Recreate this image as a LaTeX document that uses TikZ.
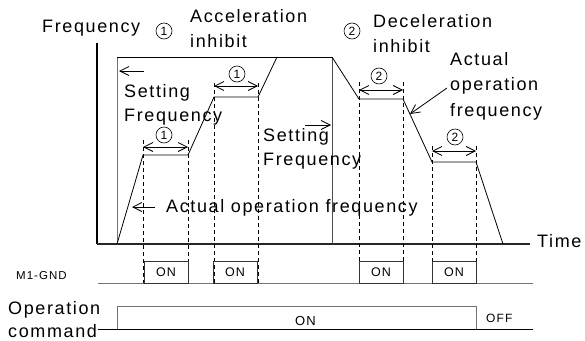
\documentclass[tikz,border=0pt]{standalone}
\usepackage{fontspec}
\setmainfont[LetterSpace=9]{Liberation Sans}
\usetikzlibrary{arrows.meta,positioning}

\begin{document}
\begin{tikzpicture}[x=1pt,y=-1pt,
  lbl/.style={anchor=base west,inner sep=0pt,font=\fontsize{18}{18}\selectfont},
  sml/.style={anchor=base west,inner sep=0pt,font=\fontsize{12}{12}\selectfont},
  num/.style={draw,circle,minimum size=16pt,inner sep=0pt,line width=0.6pt,font=\fontsize{12}{12}\selectfont},
  onbox/.style={draw=black!80,line width=0.8pt,minimum width=44pt,minimum height=22pt,inner sep=0pt,font=\fontsize{12.5}{12.5}\selectfont},
  guide/.style={dash pattern=on 4pt off 3pt,line width=0.7pt},
  ptr/.style={-{Straight Barb[length=9pt,width=9pt]},line width=0.8pt},
  span/.style={{Straight Barb[length=9pt,width=9pt]}-{Straight Barb[length=9pt,width=9pt]},line width=0.8pt}]
  \useasboundingbox (0,0) rectangle (585,340);

  % axes
  \coordinate (o) at (97,244);
  \coordinate (ytop) at (97,43);
  \coordinate (tend) at (530,244);
  \draw[line width=1.6pt] (ytop) -- (o);
  \draw[line width=2.6pt,black!85] (o) -- (tend);
  \node[lbl] (freq) at (42,32) {Frequency};
  \node[lbl,anchor=west] (time) at (537,241) {Time};

  % setting frequency
  \coordinate (s0) at (117,244);
  \coordinate (s1) at (117,57);
  \coordinate (s2) at (332,57);
  \coordinate (s3) at (332,244);
  \draw[black!55,line width=0.8pt] (s0) -- (s1);
  \draw[line width=0.8pt] (s1) -- (s2);
  \draw[black!70,line width=0.8pt] (s2) -- (s3);

  % actual operation frequency
  \coordinate (a1) at (143,155);
  \coordinate (a2) at (188,155);
  \coordinate (a3) at (214,97);
  \coordinate (a4) at (258,97);
  \coordinate (a5) at (277,57);
  \coordinate (a7) at (359,99);
  \coordinate (a8) at (403,99);
  \coordinate (a9) at (432,162);
  \coordinate (a10) at (476,162);
  \coordinate (a11) at (503,244);
  \draw[line width=0.8pt] (s0) -- (a1) -- (a2) -- (a3) -- (a4) -- (a5);
  \draw[line width=0.8pt] (s2) -- (a7) -- (a8) -- (a9) -- (a10) -- (a11);

  % inhibit guides
  \foreach \x/\y in {143/140,188/140,214/83,258/83,359/82,403/82,432/146,476/146}
    \draw[guide] (\x,\y) -- (\x,283);

  % inhibit spans
  \coordinate (p1) at (143,147);
  \coordinate (q1) at (188,147);
  \coordinate (p2) at (214,86);
  \coordinate (q2) at (258,86);
  \coordinate (p3) at (359,90);
  \coordinate (q3) at (403,90);
  \coordinate (p4) at (432,151);
  \coordinate (q4) at (476,151);
  \draw[span] (p1) -- (q1);
  \draw[span] (p2) -- (q2);
  \draw[span] (p3) -- (q3);
  \draw[span] (p4) -- (q4);
  \node[num] (n1) at (164,135) {1};
  \node[num] (n2) at (237,74) {1};
  \node[num] (n3) at (379,76) {2};
  \node[num] (n4) at (455,137) {2};

  % headings
  \node[num] (h1) at (164,31) {1};
  \node[lbl] (acc) at (190,22) {Acceleration};
  \node[lbl] (acci) at (190,47) {inhibit};
  \node[num] (h2) at (352,31) {2};
  \node[lbl] (dec) at (373,27) {Deceleration};
  \node[lbl] (deci) at (373,52) {inhibit};

  % setting frequency labels
  \coordinate (sl0) at (144,71);
  \coordinate (sl1) at (119,71);
  \draw[ptr] (sl0) -- (sl1);
  \node[lbl] (set1) at (124,97) {Setting};
  \node[lbl] (set1b) at (124,121) {Frequency};
  \coordinate (sr0) at (305,125);
  \coordinate (sr1) at (331,125);
  \draw[ptr] (sr0) -- (sr1);
  \node[lbl] (set2) at (263,141) {Setting};
  \node[lbl] (set2b) at (263,165) {Frequency};

  % actual frequency labels
  \node[lbl] (act1) at (450,65) {Actual};
  \node[lbl] (act1b) at (450,90) {operation};
  \node[lbl] (act1c) at (450,116) {frequency};
  \coordinate (ar0) at (447,88);
  \coordinate (ar1) at (410,114);
  \draw[ptr] (ar0) -- (ar1);
  \coordinate (al0) at (155,207);
  \coordinate (al1) at (132,207);
  \draw[ptr] (al0) -- (al1);
  \node[lbl] (act2) at (166,212) {Actual operation frequency};

  % M1-GND
  \coordinate (m0) at (98,283);
  \coordinate (m1) at (533,283);
  \draw[black!55,line width=0.8pt] (m0) -- (m1);
  \node[sml,font=\fontsize{11.5}{11.5}\selectfont] (mgnd) at (16,279) {M1-GND};
  \node[onbox] (on1) at (166,272) {ON};
  \node[onbox] (on2) at (235,272) {ON};
  \node[onbox] (on3) at (381,272) {ON};
  \node[onbox] (on4) at (454,272) {ON};

  % operation command
  \coordinate (c0) at (98,329);
  \coordinate (c1) at (533,329);
  \coordinate (r0) at (117,329);
  \coordinate (r1) at (117,306);
  \coordinate (r2) at (476,306);
  \coordinate (r3) at (476,329);
  \draw[black!55,line width=0.8pt] (r0) -- (r1) -- (r2) -- (r3);
  \draw[line width=0.8pt] (c0) -- (c1);
  \node[lbl] (opc) at (8,314) {Operation};
  \node[lbl] (opcb) at (8,337) {command};
  \node[sml,font=\fontsize{13}{13}\selectfont] (opon) at (295,325) {ON};
  \node[sml] (opoff) at (486,322) {OFF};
\end{tikzpicture}
\end{document}
